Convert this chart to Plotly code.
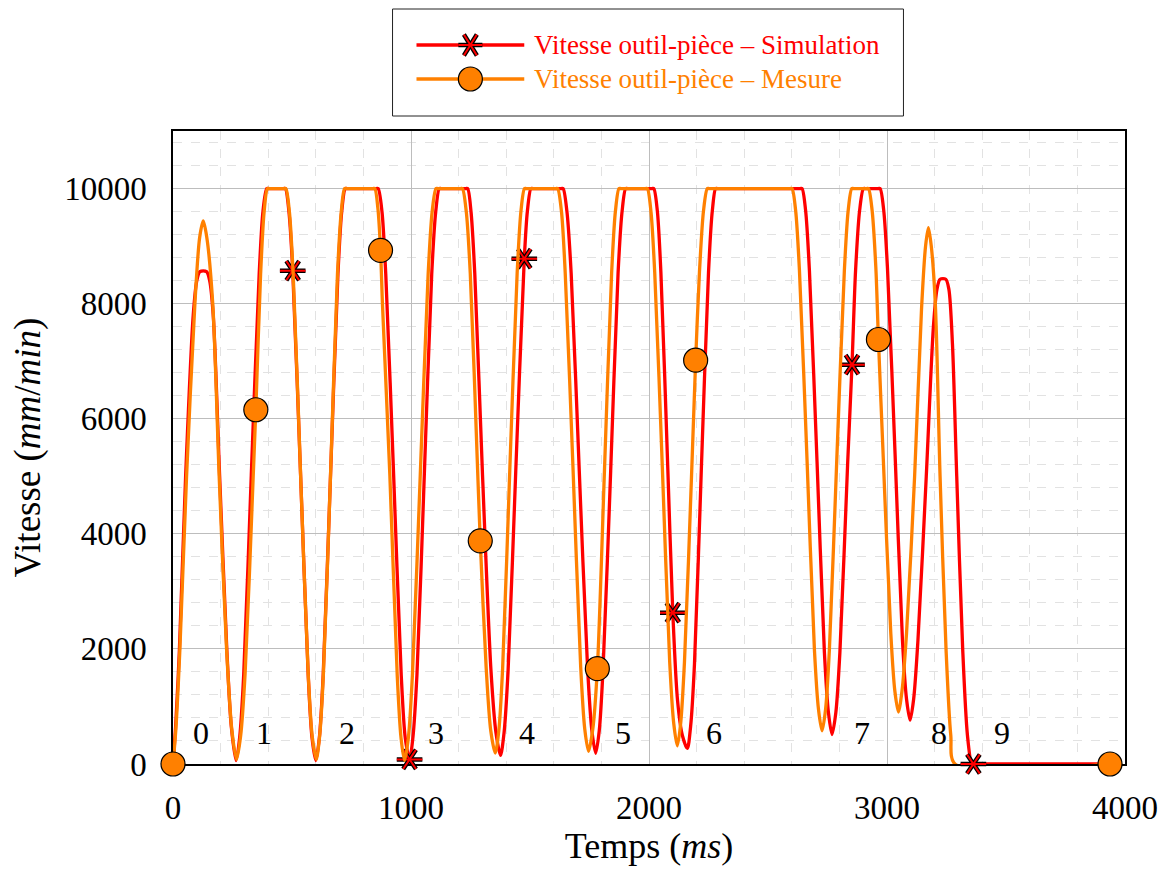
import plotly.graph_objects as go

# ---------------- data ----------------
sim_t = [0, 11, 27, 53, 85, 100, 113, 141, 154, 169, 196, 226, 245, 265,
         280, 297, 329, 362, 378, 394, 402, 464, 472,
         487, 503, 536, 568, 584, 600,
         615, 631, 662, 693, 709, 724, 732, 854, 862,
         878, 894, 927, 959, 976, 994,
         1008, 1025, 1056, 1087, 1104, 1119, 1127, 1230, 1238,
         1252, 1268, 1300, 1336, 1357, 1376,
         1391, 1408, 1440, 1476, 1489, 1504, 1512, 1631, 1639,
         1655, 1673, 1707, 1742, 1760, 1776,
         1791, 1807, 1839, 1870, 1887, 1902, 1910, 2012, 2020,
         2035, 2050, 2079, 2100, 2120, 2140, 2161,
         2175, 2191, 2220, 2250, 2266, 2280, 2288, 2635, 2643,
         2658, 2674, 2706, 2737, 2754, 2769,
         2785, 2802, 2835, 2853, 2868, 2885, 2901, 2909, 2963, 2971,
         2986, 3002, 3034, 3065, 3082, 3097,
         3112, 3130, 3165, 3195, 3210, 3223, 3247,
         3260, 3275, 3293, 3318, 3338, 3356, 3363, 3937]
sim_v = [0, 650, 2000, 5000, 7800, 8400, 8556, 8556, 8400, 7800, 5000, 2000, 650, 60,
         458, 1551, 5030, 8509, 9602, 10000, 10000, 10000, 10000,
         9602, 8573, 5030, 1551, 458, 60,
         458, 1551, 5030, 8509, 9602, 10000, 10000, 10000, 10000,
         9602, 8508, 5025, 1543, 448, 80,
         458, 1551, 5030, 8509, 9602, 10000, 10000, 10000, 10000,
         9606, 8522, 5075, 1627, 544, 150,
         544, 1627, 5075, 8782, 9606, 10000, 10000, 10000, 10000,
         9607, 8528, 5093, 1658, 579, 186,
         579, 1658, 5093, 8528, 9607, 10000, 10000, 10000, 10000,
         9611, 8540, 5135, 2630, 1100, 500, 271,
         660, 1730, 5136, 8541, 9611, 10000, 10000, 10000, 10000,
         9621, 8577, 5257, 1936, 892, 513,
         892, 1936, 5257, 6940, 8577, 9621, 10000, 10000, 10000, 10000,
         9630, 8614, 5381, 2147, 1130, 762,
         1130, 2147, 5000, 7600, 8250, 8424, 8424,
         8250, 7300, 5000, 2000, 500, 0, 0, 0]

mes_t = [0, 12, 29, 57, 92, 112, 127, 142, 167, 194, 225, 247, 267,
         284, 303, 337, 348, 368, 383, 397, 405, 466, 474,
         489, 505, 536, 568, 585, 602,
         616, 632, 662, 691, 707, 721, 729, 840, 848,
         861, 872, 880, 911, 942, 958, 973,
         989, 1006, 1039, 1072, 1089, 1105, 1113, 1208, 1216,
         1232, 1249, 1280, 1291, 1316, 1335, 1354,
         1369, 1385, 1415, 1446, 1462, 1477, 1485, 1608, 1616,
         1632, 1648, 1681, 1713, 1730, 1746,
         1764, 1783, 1813, 1843, 1859, 1874, 1882, 1985, 1993,
         2008, 2024, 2056, 2087, 2104, 2119,
         2133, 2149, 2180, 2196, 2212, 2229, 2245, 2253, 2593, 2601,
         2616, 2632, 2664, 2695, 2712, 2727,
         2742, 2758, 2789, 2821, 2837, 2852, 2860, 2914, 2922,
         2937, 2953, 2964, 2983, 3016, 3033, 3048,
         3063, 3082, 3116, 3145, 3162, 3174,
         3186, 3203, 3223, 3248, 3268, 3286, 3937]
mes_v = [0, 600, 2000, 5000, 8000, 9150, 9436, 9150, 8000, 5000, 2000, 600, 80,
         480, 1570, 5000, 6156, 8500, 9600, 10000, 10000, 10000, 10000,
         9600, 8510, 5040, 1570, 480, 80,
         480, 1570, 5040, 8510, 9600, 10000, 10000, 10000, 10000,
         9650, 8926, 8000, 5030, 1551, 458, 60,
         458, 1551, 5030, 8509, 9602, 10000, 10000, 10000, 10000,
         9608, 8529, 5095, 3878, 1662, 582, 190,
         582, 1662, 5095, 8529, 9608, 10000, 10000, 10000, 10000,
         9609, 8533, 5110, 1687, 611, 220,
         611, 1657, 5110, 8533, 9609, 10000, 10000, 10000, 10000,
         9613, 8547, 5158, 1769, 703, 316,
         703, 1769, 5158, 7017, 8547, 9613, 10000, 10000, 10000, 10000,
         9623, 8588, 5289, 1990, 954, 577,
         954, 1990, 5289, 8588, 9623, 10000, 10000, 10000, 10000,
         9636, 8636, 7377, 5452, 2268, 1268, 904,
         1268, 2268, 5000, 7900, 9000, 9321,
         9000, 8000, 5000, 2000, 500, 0, 0]

sim_mark_t = [503, 994, 1476, 2100, 2853, 3363]
sim_mark_v = [8573, 80, 8782, 2630, 6940, 0]
mes_mark_t = [0, 348, 872, 1291, 1783, 2196, 2964, 3937]
mes_mark_v = [0, 6156, 8926, 3878, 1657, 7017, 7377, 0]

phase_labels = ["0", "1", "2", "3", "4", "5", "6", "7", "8", "9"]
phase_t = [117, 382, 730, 1107, 1488, 1891, 2273, 2897, 3220, 3484]
phase_v = [540, 540, 540, 540, 540, 540, 540, 540, 540, 540]

x_ticks = [0, 1000, 2000, 3000, 4000]
y_ticks = [0, 2000, 4000, 6000, 8000, 10000]

sim_name = "Vitesse outil-pièce – Simulation"
mes_name = "Vitesse outil-pièce – Mesure"

# ---------------- style ----------------
RED = "#ff0000"
ORANGE = "#ff8000"
FONT = "Liberation Serif"
W, H = 1170, 871
ML, MR, MT, MB = 173, 43, 131, 107
PW, PH = W - ML - MR, H - MT - MB


def px_x(p):
    return (p - ML) / PW


def px_y(p):
    return (H - MB - p) / PH


fig = go.Figure()

fig.add_trace(go.Scatter(x=sim_t, y=sim_v, mode="lines",
                         line=dict(color=RED, width=3.3, shape="spline", smoothing=0.8),
                         cliponaxis=False, showlegend=False, hoverinfo="skip"))
for sym in ["y-left-open", "y-right-open"]:
    fig.add_trace(go.Scatter(x=sim_mark_t, y=sim_mark_v, mode="markers",
                             marker=dict(symbol=sym, size=16, color="black",
                                         line=dict(color="black", width=4.5)),
                             cliponaxis=False, showlegend=False, hoverinfo="skip"))
for sym in ["y-left-open", "y-right-open"]:
    fig.add_trace(go.Scatter(x=sim_mark_t, y=sim_mark_v, mode="markers",
                             marker=dict(symbol=sym, size=16, color=RED,
                                         line=dict(color=RED, width=2)),
                             cliponaxis=False, showlegend=False, hoverinfo="skip"))

fig.add_trace(go.Scatter(x=mes_t, y=mes_v, mode="lines",
                         line=dict(color=ORANGE, width=3.3, shape="spline", smoothing=0.8),
                         cliponaxis=False, showlegend=False, hoverinfo="skip"))
fig.add_trace(go.Scatter(x=mes_mark_t, y=mes_mark_v, mode="markers",
                         marker=dict(symbol="circle", size=24, color=ORANGE,
                                     line=dict(color="black", width=1.2)),
                         cliponaxis=False, showlegend=False, hoverinfo="skip"))

# phase numbers
for lab, t, v in zip(phase_labels, phase_t, phase_v):
    fig.add_annotation(x=t, y=v, xref="x", yref="y", text=lab, showarrow=False,
                       font=dict(family=FONT, size=32, color="black"),
                       xanchor="center", yanchor="middle")

# ---------------- hand-drawn legend box ----------------
shapes = []
shapes.append(dict(type="rect", xref="paper", yref="paper",
                   x0=px_x(393), x1=px_x(905), y0=px_y(116), y1=px_y(9),
                   line=dict(color="#222222", width=1), fillcolor="white", layer="above"))
for ypx, col in [(45, RED), (79, ORANGE)]:
    shapes.append(dict(type="line", xref="paper", yref="paper",
                       x0=px_x(417), x1=px_x(525), y0=px_y(ypx), y1=px_y(ypx),
                       line=dict(color=col, width=3.3), layer="above"))
# legend asterisk (black outline then red)
cx, cy = px_x(471), px_y(45)
arms = [(-12, 0, 12, 0), (-6.5, -10.5, 6.5, 10.5), (-6.5, 10.5, 6.5, -10.5)]
for col, wd in [("black", 4.5), (RED, 2)]:
    for a in arms:
        shapes.append(dict(type="line", xref="paper", yref="paper",
                           xsizemode="pixel", ysizemode="pixel",
                           xanchor=cx, yanchor=cy,
                           x0=a[0], x1=a[2], y0=a[1], y1=a[3],
                           line=dict(color=col, width=wd), layer="above"))
# legend circle
shapes.append(dict(type="circle", xref="paper", yref="paper",
                   xsizemode="pixel", ysizemode="pixel",
                   xanchor=px_x(471), yanchor=px_y(79),
                   x0=-12, x1=12, y0=-12, y1=12,
                   fillcolor=ORANGE, line=dict(color="black", width=1.2), layer="above"))

fig.add_annotation(x=px_x(533), y=px_y(45), xref="paper", yref="paper", text=sim_name,
                   showarrow=False, xanchor="left", yanchor="middle",
                   font=dict(family=FONT, size=27, color=RED))
fig.add_annotation(x=px_x(533), y=px_y(79), xref="paper", yref="paper", text=mes_name,
                   showarrow=False, xanchor="left", yanchor="middle",
                   font=dict(family=FONT, size=27, color=ORANGE))

fig.update_layout(
    width=W, height=H,
    margin=dict(l=ML, r=MR, t=MT, b=MB),
    paper_bgcolor="white", plot_bgcolor="white",
    font=dict(family=FONT, color="black"),
    showlegend=False,
    shapes=shapes,
)

fig.update_xaxes(range=[0, 4000], tickvals=x_ticks, tickformat="d",
                 showline=True, mirror=True, linecolor="black", linewidth=1.5,
                 showgrid=True, gridcolor="#bdbdbd", gridwidth=1, zeroline=False,
                 minor=dict(dtick=200, showgrid=True, gridcolor="#e2e2e2",
                            griddash="dash", gridwidth=1),
                 ticks="", ticklabelstandoff=14,
                 tickfont=dict(family=FONT, size=33),
                 title=dict(text="Temps (<i>ms</i>)", font=dict(family=FONT, size=36),
                            standoff=6),
                 layer="below traces")
fig.update_yaxes(range=[0, 11000], tickvals=y_ticks, tickformat="d",
                 showline=True, mirror=True, linecolor="black", linewidth=1.5,
                 showgrid=True, gridcolor="#bdbdbd", gridwidth=1, zeroline=False,
                 minor=dict(dtick=400, showgrid=True, gridcolor="#e2e2e2",
                            griddash="dash", gridwidth=1),
                 ticks="", ticklabelstandoff=18,
                 tickfont=dict(family=FONT, size=33),
                 title=dict(text="Vitesse (<i>mm</i>/<i>min</i>)",
                            font=dict(family=FONT, size=37), standoff=12),
                 layer="below traces")

fig.write_html("out.html")
